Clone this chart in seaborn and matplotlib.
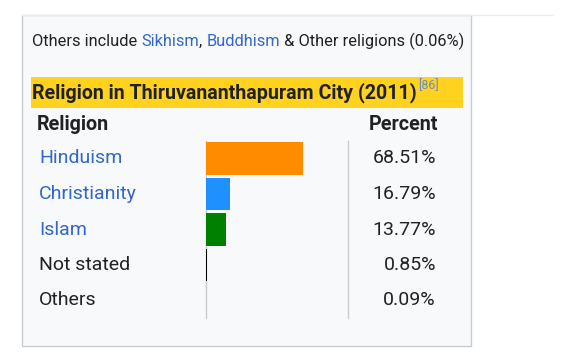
import matplotlib
matplotlib.use("Agg")
import matplotlib.pyplot as plt
import seaborn as sns
from matplotlib.patches import Rectangle

# Data
religions = ["Hinduism", "Christianity", "Islam", "Not stated", "Others"]
percent = [68.51, 16.79, 13.77, 0.85, 0.09]
bar_colors = ["#FF8C00", "#1E90FF", "#008000", "#000000", "#C0C0C0"]
is_link = [True, True, True, False, False]
note_parts = [("Others include ", False), ("Sikhism", True), (", ", False),
              ("Buddhism", True), (" & Other religions (0.06%)", False)]
title = "Religion in Thiruvananthapuram City (2011)"
ref = "[86]"
headers = ["Religion", "Percent"]

TEXT = "#202122"
LINK = "#3366cc"
FONT = "Roboto"

sns.set_style("white")
plt.rcParams["font.family"] = [FONT, "DejaVu Sans"]

fig = plt.figure(figsize=(5.76, 3.58), dpi=100)
fig.patch.set_facecolor("white")

# background canvas in pixel coordinates
bg = fig.add_axes([0, 0, 1, 1])
bg.set_xlim(0, 576)
bg.set_ylim(358, 0)
bg.axis("off")

bg.plot([22, 553], [15, 15], color="#eaecf0", lw=1)
bg.add_patch(Rectangle((22, 15), 449, 331, facecolor="#f8f9fa",
                       edgecolor="#c8ccd1", lw=1))
bg.add_patch(Rectangle((31, 77), 432, 31, facecolor="#FFD21F", edgecolor="none"))

fig.canvas.draw()
r = fig.canvas.get_renderer()


def text_w(s, **kw):
    t = bg.text(0, 0, s + "|", **kw)
    w1 = t.get_window_extent(renderer=r).width
    t.remove()
    t = bg.text(0, 0, "|", **kw)
    w2 = t.get_window_extent(renderer=r).width
    t.remove()
    return w1 - w2


# note line with links
prefix = ""
for s, link in note_parts:
    x = 32 + text_w(prefix, fontsize=11.8)
    bg.text(x, 41, s, fontsize=11.8, color=LINK if link else TEXT, va="center")
    prefix += s

# title with reference
bg.text(32, 93, title, fontsize=14.1, fontweight="bold", color=TEXT, va="center")
tw = text_w(title, fontsize=14.1, fontweight="bold")
bg.text(33 + tw, 86, ref, fontsize=9, color="#6b8cc9", va="center")

# headers
bg.text(37, 124, headers[0], fontsize=14.2, fontweight="bold", color=TEXT, va="center")
bg.text(438, 124, headers[1], fontsize=14.2, fontweight="bold", color=TEXT,
        va="center", ha="right")

# bar column
ax = fig.add_axes([206 / 576, 1 - 318 / 358, 142 / 576, 177 / 358])
sns.barplot(x=percent, y=religions, hue=religions, palette=bar_colors,
            legend=False, ax=ax, width=0.92, orient="h", saturation=1,
            linewidth=0)
for p in ax.patches:
    p.set_zorder(3)
ax.set_xlim(0, 100)
ax.set_ylim(4.5, -0.5)
ax.set_facecolor("none")
ax.set_xticks([])
ax.set_yticks([])
ax.set_xlabel("")
ax.set_ylabel("")
for side in ["top", "bottom"]:
    ax.spines[side].set_visible(False)
for side in ["left", "right"]:
    ax.spines[side].set_color("#c8ccd1")
    ax.spines[side].set_linewidth(1)
    ax.spines[side].set_zorder(0.5)

# row labels and values
row_y = [158, 194, 230, 265, 300]
for name, val, link, y in zip(religions, percent, is_link, row_y):
    bg.text(39, y, name, fontsize=14, color=LINK if link else TEXT, va="center")
    bg.text(436, y, f"{val:.2f}%", fontsize=14, color=TEXT, va="center", ha="right")

fig.savefig("out.png", dpi=100)
